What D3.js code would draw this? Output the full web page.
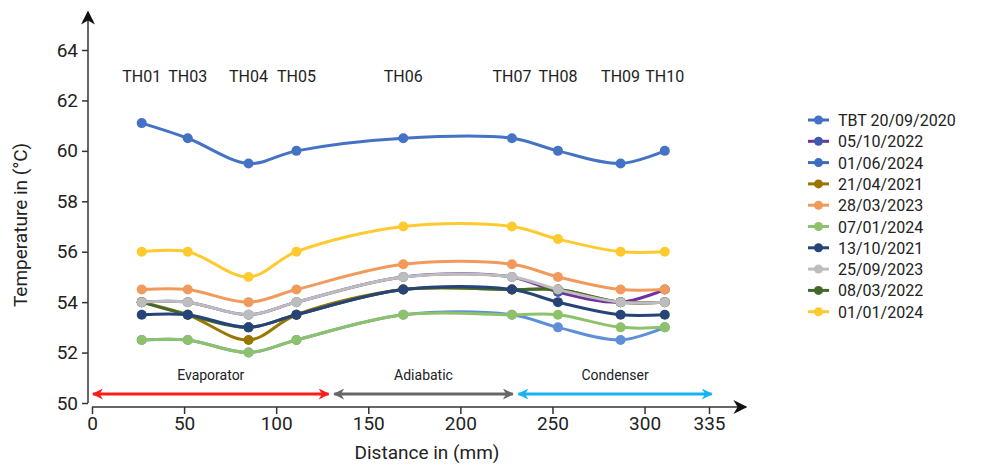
<!DOCTYPE html>
<html>
<head>
<meta charset="utf-8">
<script src="https://cdn.jsdelivr.net/npm/d3@7"></script>
<style>
  body { margin: 0; background: #fff; }
  text { font-family: Roboto, "DejaVu Sans", sans-serif; fill: #222; }
</style>
</head>
<body>
<svg id="canvas"></svg>
<script>
let sensors = ['TH01', 'TH03', 'TH04', 'TH05', 'TH06', 'TH07', 'TH08', 'TH09', 'TH10']
let positions = [27, 52, 85, 111, 169, 228, 253, 287, 311]

let seriesNames = ['TBT 20/09/2020', '05/10/2022', '01/06/2024', '21/04/2021', '28/03/2023',
                   '07/01/2024', '13/10/2021', '25/09/2023', '08/03/2022', '01/01/2024']
let lineColors = ['#4472c4', '#7030a0', '#5f8fd8', '#9c7400', '#f29a5b',
                  '#8dc26a', '#264478', '#bdbdbd', '#43682b', '#ffca30']
let markerColors = ['#4472c4', '#3e5ba9', '#5f8fd8', '#9c7400', '#f29a5b',
                    '#8dc26a', '#264478', '#bdbdbd', '#43682b', '#ffca30']
let legendColors = ['#3f6fbf', '#7030a0', '#3a6cc0', '#9c7400', '#f29a5b',
                    '#8dc26a', '#264478', '#bdbdbd', '#43682b', '#ffca30']

let tbt2020 = [61.1, 60.5, 59.5, 60, 60.5, 60.5, 60, 59.5, 60]
let oct2022 = [54, 54, 53.5, 54, 55, 55, 54.4, 54, 54.5]
let jun2024 = [52.5, 52.5, 52, 52.5, 53.5, 53.5, 53, 52.5, 53]
let apr2021 = [54, 53.5, 52.5, 53.5, 54.5, 54.5, 54.5, 54, 54]
let mar2023 = [54.5, 54.5, 54, 54.5, 55.5, 55.5, 55, 54.5, 54.5]
let jan2024b = [52.5, 52.5, 52, 52.5, 53.5, 53.5, 53.5, 53, 53]
let oct2021 = [53.5, 53.5, 53, 53.5, 54.5, 54.5, 54, 53.5, 53.5]
let sep2023 = [54, 54, 53.5, 54, 55, 55, 54.5, 54, 54]
let mar2022 = [54, 53.5, 53, 53.5, 54.5, 54.5, 54.5, 54, 54]
let jan2024 = [56, 56, 55, 56, 57, 57, 56.5, 56, 56]
let seriesValues = [tbt2020, oct2022, jun2024, apr2021, mar2023, jan2024b, oct2021, sep2023, mar2022, jan2024]

// drawing order (later = on top)
let drawOrder = [0, 1, 2, 3, 8, 6, 5, 7, 4, 9]

let xTicks = [0, 50, 100, 150, 200, 250, 300, 335]
let yTicks = [50, 52, 54, 56, 58, 60, 62, 64]

let zoneNames = ['Evaporator', 'Adiabatic', 'Condenser']
let zoneStart = [0, 131, 231]
let zoneEnd = [129, 229, 337]
let zoneColors = ['#ff1a1a', '#666666', '#14b4f0']

let width = 987
let height = 465

let svg = d3.select('#canvas').attr('width', width).attr('height', height)

let x = d3.scaleLinear().domain([0, 335]).range([92, 709])
let y = d3.scaleLinear().domain([50, 64]).range([403, 50])

let defs = svg.append('defs')
let addArrow = (id, color, w, h) => {
  defs.append('marker')
    .attr('id', id)
    .attr('viewBox', '0 0 10 10')
    .attr('refX', 9).attr('refY', 5)
    .attr('markerWidth', w).attr('markerHeight', h)
    .attr('markerUnits', 'userSpaceOnUse')
    .attr('orient', 'auto-start-reverse')
    .append('path')
    .attr('d', 'M0,0 L10,5 L0,10 L3,5 Z')
    .attr('fill', color)
}
addArrow('axisArrow', '#111', 18, 14)
zoneColors.forEach((c, i) => addArrow('zone' + i, c, 13, 11))

// y axis
let yAxis = d3.axisLeft(y).tickValues(yTicks).tickSize(6).tickPadding(4)
let yg = svg.append('g').attr('transform', 'translate(88,0)').call(yAxis)
yg.select('.domain').remove()
yg.selectAll('line').attr('stroke', '#333').attr('stroke-width', 1.5)
yg.selectAll('text').attr('font-size', 19).style('fill', '#222')
svg.append('line')
  .attr('x1', 88).attr('x2', 88).attr('y1', y(50)).attr('y2', 12)
  .attr('stroke', '#333').attr('stroke-width', 1.5)
  .attr('marker-end', 'url(#axisArrow)')

// x axis
let xAxis = d3.axisBottom(x).tickValues(xTicks).tickSize(7).tickPadding(3)
let xg = svg.append('g').attr('transform', 'translate(0,407)').call(xAxis)
xg.select('.domain').remove()
xg.selectAll('line').attr('stroke', '#333').attr('stroke-width', 1.5)
xg.selectAll('text').attr('font-size', 19).style('fill', '#222')
svg.append('line')
  .attr('x1', x(0)).attr('x2', 746).attr('y1', 407).attr('y2', 407)
  .attr('stroke', '#333').attr('stroke-width', 1.5)
  .attr('marker-end', 'url(#axisArrow)')

// axis titles
svg.append('text')
  .attr('transform', 'translate(27,225) rotate(-90)')
  .attr('text-anchor', 'middle')
  .attr('font-size', 19)
  .text('Temperature in (°C)')
svg.append('text')
  .attr('x', 427).attr('y', 459)
  .attr('text-anchor', 'middle')
  .attr('font-size', 19)
  .text('Distance in (mm)')

// zone arrows
zoneNames.forEach((name, i) => {
  svg.append('line')
    .attr('x1', x(zoneStart[i]) + 1).attr('x2', x(zoneEnd[i]) - 1)
    .attr('y1', 394).attr('y2', 394)
    .attr('stroke', zoneColors[i]).attr('stroke-width', 3)
    .attr('marker-start', 'url(#zone' + i + ')')
    .attr('marker-end', 'url(#zone' + i + ')')
  svg.append('text')
    .attr('x', (x(zoneStart[i]) + x(zoneEnd[i])) / 2)
    .attr('y', 380)
    .attr('text-anchor', 'middle')
    .attr('font-size', 14)
    .text(name)
})

// sensor labels
svg.selectAll('.sensor')
  .data(sensors)
  .enter()
  .append('text')
  .attr('class', 'sensor')
  .attr('x', (d, i) => x(positions[i]))
  .attr('y', 82)
  .attr('text-anchor', 'middle')
  .attr('font-size', 16)
  .text(d => d)

// lines
let line = d3.line()
  .x((d, i) => x(positions[i]))
  .y(d => y(d))
  .curve(d3.curveCatmullRom.alpha(0.5))

drawOrder.forEach(s => {
  let g = svg.append('g')
  g.append('path')
    .attr('d', line(seriesValues[s]))
    .attr('fill', 'none')
    .attr('stroke', lineColors[s])
    .attr('stroke-width', 3)
  g.selectAll('circle')
    .data(seriesValues[s])
    .enter()
    .append('circle')
    .attr('cx', (d, i) => x(positions[i]))
    .attr('cy', d => y(d))
    .attr('r', 5)
    .attr('fill', markerColors[s])
})

// legend
let legend = svg.append('g')
seriesNames.forEach((name, i) => {
  let ly = 120 + i * 21.3
  legend.append('line')
    .attr('x1', 808).attr('x2', 829).attr('y1', ly).attr('y2', ly)
    .attr('stroke', legendColors[i]).attr('stroke-width', 3)
  legend.append('circle')
    .attr('cx', 818.5).attr('cy', ly).attr('r', 4.5)
    .attr('fill', i === 2 ? legendColors[i] : markerColors[i])
  legend.append('text')
    .attr('x', 838).attr('y', ly + 6)
    .attr('font-size', 16)
    .text(name)
})
</script>
</body>
</html>
